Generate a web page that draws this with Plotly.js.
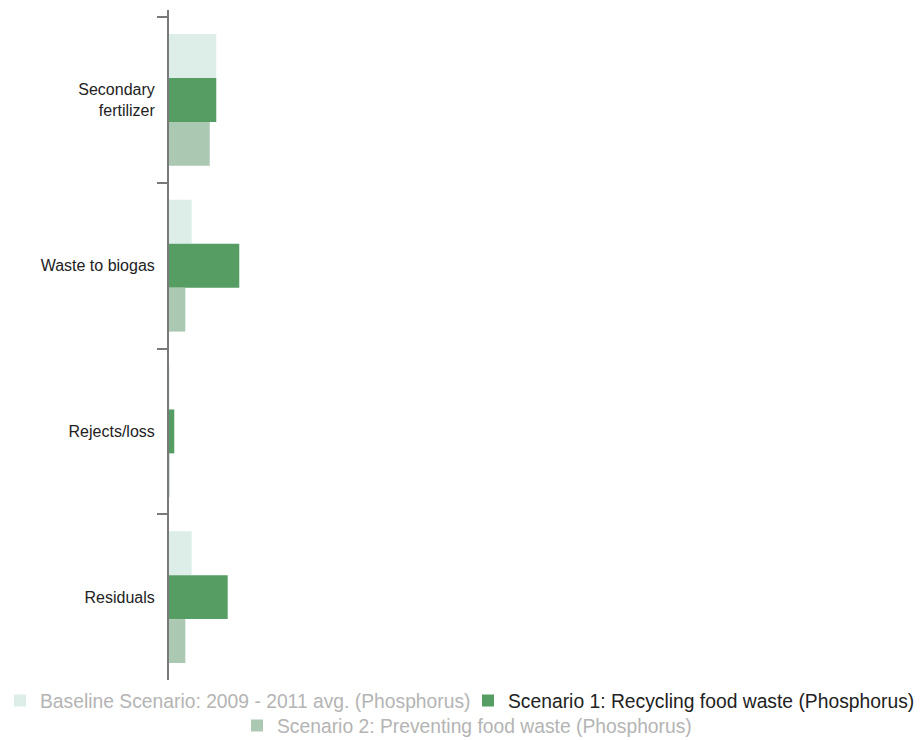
<!DOCTYPE html>
<html>
<head>
<meta charset="utf-8">
<script src="https://cdn.plot.ly/plotly-3.0.1.min.js"></script>
<style>
  html, body { margin: 0; padding: 0; background: #fff; }
  #chart { width: 924px; height: 740px; }
</style>
</head>
<body>
<div id="chart"></div>
<script>
// Categories (top to bottom)
var categories = ["Secondary<br>fertilizer", "Waste to biogas", "Rejects/loss", "Residuals"];

// Series names
var seriesNames = [
  "Baseline Scenario: 2009 - 2011 avg. (Phosphorus)",
  "Scenario 1: Recycling food waste (Phosphorus)",
  "Scenario 2: Preventing food waste (Phosphorus)"
];

// Series values
var baselineValues = [6.37, 3.06, 0.07, 3.06];
var scenario1Values = [6.37, 9.47, 0.71, 7.91];
var scenario2Values = [5.49, 2.20, 0.07, 2.20];

var colors = ["rgb(220,238,231)", "rgb(86,157,99)", "rgb(171,200,178)"];
var fontFam = "Liberation Sans, Arial, Helvetica, sans-serif";

var traces = [
  { type: "bar", orientation: "h", name: seriesNames[0], y: categories, x: baselineValues,
    marker: { color: colors[0] }, legend: "legend" },
  { type: "bar", orientation: "h", name: seriesNames[1], y: categories, x: scenario1Values,
    marker: { color: colors[1] }, legend: "legend2" },
  { type: "bar", orientation: "h", name: seriesNames[2], y: categories, x: scenario2Values,
    marker: { color: colors[2] }, legend: "legend3" }
];

var legendBase = {
  orientation: "h",
  xref: "container", yref: "container",
  xanchor: "left", yanchor: "middle",
  bgcolor: "rgba(0,0,0,0)",
  borderwidth: 0
};

var layout = {
  width: 924, height: 740,
  margin: { l: 169, r: 13, t: 10, b: 60 },
  paper_bgcolor: "#fff", plot_bgcolor: "#fff",
  font: { family: fontFam, color: "#222" },
  barmode: "group",
  bargap: 0.205,
  bargroupgap: 0,
  showlegend: true,
  xaxis: { visible: false, range: [0, 100], showgrid: false, zeroline: false, fixedrange: true },
  yaxis: {
    type: "category",
    range: [3.5, -0.543],
    showline: true, linecolor: "#7a7a7a", linewidth: 2,
    ticks: "outside", tickson: "boundaries", ticklen: 10, tickwidth: 2, tickcolor: "#7a7a7a",
    ticklabelstandoff: 9,
    showgrid: false, zeroline: false,
    tickfont: { size: 16, color: "#222", family: fontFam }
  },
  legend: Object.assign({}, legendBase, { x: -4 / 924, y: 1 - 701 / 740, font: { size: 19.3, color: "#b4b4b4", family: fontFam } }),
  legend2: Object.assign({}, legendBase, { x: 468 / 924, y: 1 - 701 / 740, font: { size: 19.3, color: "#222", family: fontFam } }),
  legend3: Object.assign({}, legendBase, { x: 237 / 924, y: 1 - 726 / 740, font: { size: 19.3, color: "#b4b4b4", family: fontFam } })
};

Plotly.newPlot("chart", traces, layout, { displayModeBar: false, staticPlot: true });
</script>
</body>
</html>
